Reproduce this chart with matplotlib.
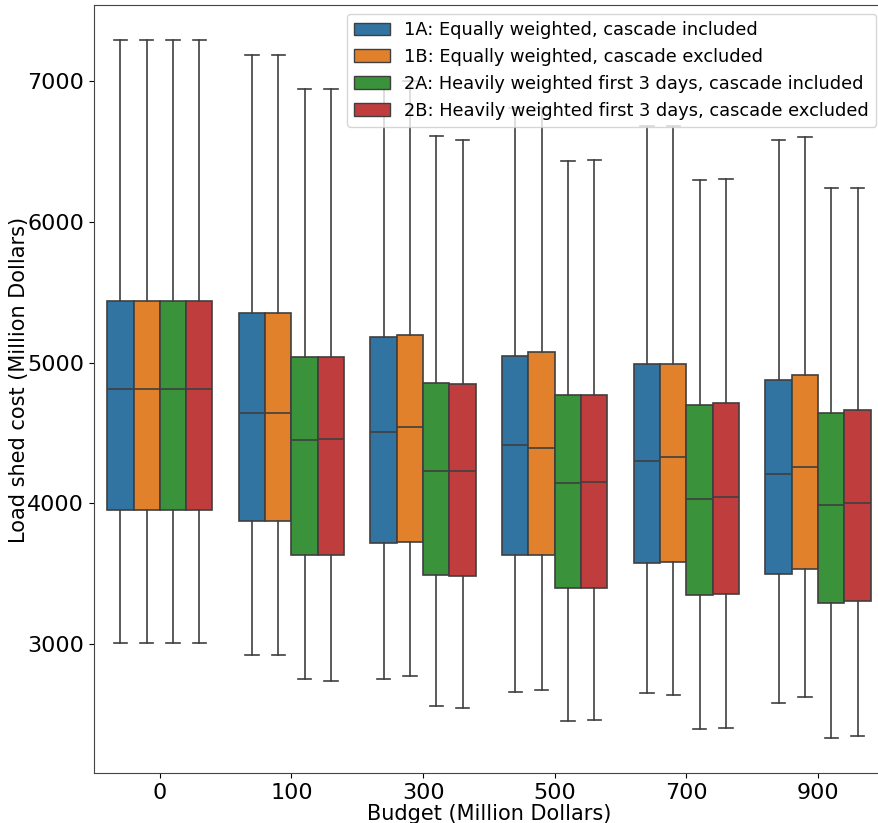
import matplotlib
matplotlib.use("Agg")
import matplotlib.pyplot as plt
from matplotlib.patches import Patch
import colorsys
import matplotlib.colors as mcolors

budgets = ["0", "100", "300", "500", "700", "900"]
series = [
    "1A: Equally weighted, cascade included",
    "1B: Equally weighted, cascade excluded",
    "2A: Heavily weighted first 3 days, cascade included",
    "2B: Heavily weighted first 3 days, cascade excluded",
]

# per series: lists over budgets
whislo = {
    "1A": [3011, 2921, 2751, 2661, 2651, 2585],
    "1B": [3011, 2921, 2774, 2675, 2637, 2623],
    "2A": [3011, 2751, 2561, 2455, 2396, 2334],
    "2B": [3011, 2741, 2547, 2460, 2405, 2348],
}
q1 = {
    "1A": [3955, 3875, 3719, 3632, 3579, 3496],
    "1B": [3955, 3875, 3728, 3636, 3584, 3532],
    "2A": [3955, 3634, 3489, 3401, 3349, 3295],
    "2B": [3955, 3634, 3484, 3401, 3359, 3305],
}
med = {
    "1A": [4810, 4644, 4509, 4413, 4301, 4211],
    "1B": [4810, 4645, 4545, 4396, 4330, 4261],
    "2A": [4810, 4450, 4232, 4143, 4029, 3987],
    "2B": [4810, 4455, 4228, 4152, 4048, 4005],
}
q3 = {
    "1A": [5438, 5350, 5180, 5047, 4988, 4876],
    "1B": [5438, 5350, 5194, 5075, 4988, 4912],
    "2A": [5438, 5038, 4857, 4770, 4697, 4640],
    "2B": [5438, 5042, 4846, 4770, 4715, 4661],
}
whishi = {
    "1A": [7291, 7187, 7000, 6810, 6680, 6579],
    "1B": [7291, 7187, 7000, 6810, 6680, 6600],
    "2A": [7291, 6943, 6609, 6432, 6297, 6238],
    "2B": [7291, 6941, 6583, 6439, 6306, 6238],
}
keys = ["1A", "1B", "2A", "2B"]


def desat(c, s=0.75):
    r, g, b = mcolors.to_rgb(c)
    h, l, sat = colorsys.rgb_to_hls(r, g, b)
    return colorsys.hls_to_rgb(h, l, sat * s)


colors = [desat(c) for c in ["#1f77b4", "#ff7f0e", "#2ca02c", "#d62728"]]
edge = "#3f3f3f"

fig = plt.figure(figsize=(8.79, 8.23), dpi=100)
ax = fig.add_axes([94 / 879, 50 / 823, 790 / 879, 768 / 823])

width = 0.2
offsets = [-0.3, -0.1, 0.1, 0.3]
for si, k in enumerate(keys):
    stats = []
    for bi in range(len(budgets)):
        stats.append(dict(whislo=whislo[k][bi], q1=q1[k][bi], med=med[k][bi],
                          q3=q3[k][bi], whishi=whishi[k][bi], fliers=[]))
    pos = [bi + offsets[si] for bi in range(len(budgets))]
    ax.bxp(stats, positions=pos, widths=width, patch_artist=True,
           showfliers=False, manage_ticks=False,
           boxprops=dict(facecolor=colors[si], edgecolor=edge, linewidth=1.2),
           medianprops=dict(color=edge, linewidth=1.2),
           whiskerprops=dict(color=edge, linewidth=1.2),
           capprops=dict(color=edge, linewidth=1.2),
           capwidths=width / 2)

ax.set_xlim(-0.5, len(budgets) - 0.5)
ax.set_ylim(2085, 7540)
ax.set_xticks(range(len(budgets)))
ax.set_xticklabels(budgets)
ax.set_yticks([3000, 4000, 5000, 6000, 7000])
ax.tick_params(labelsize=16)
ax.set_xlabel("Budget (Million Dollars)", fontsize=15, labelpad=1)
ax.set_ylabel("Load shed cost (Million Dollars)", fontsize=15)
ax.yaxis.set_label_coords(-0.082, 0.512)
for sp in ax.spines.values():
    sp.set_color("#444444")

handles = [Patch(facecolor=colors[i], edgecolor=edge, label=series[i]) for i in range(4)]
ax.legend(handles=handles, loc="upper right", fontsize=12.8,
          bbox_to_anchor=(791 / 790, 1.0))

fig.savefig("out.png", dpi=100)
